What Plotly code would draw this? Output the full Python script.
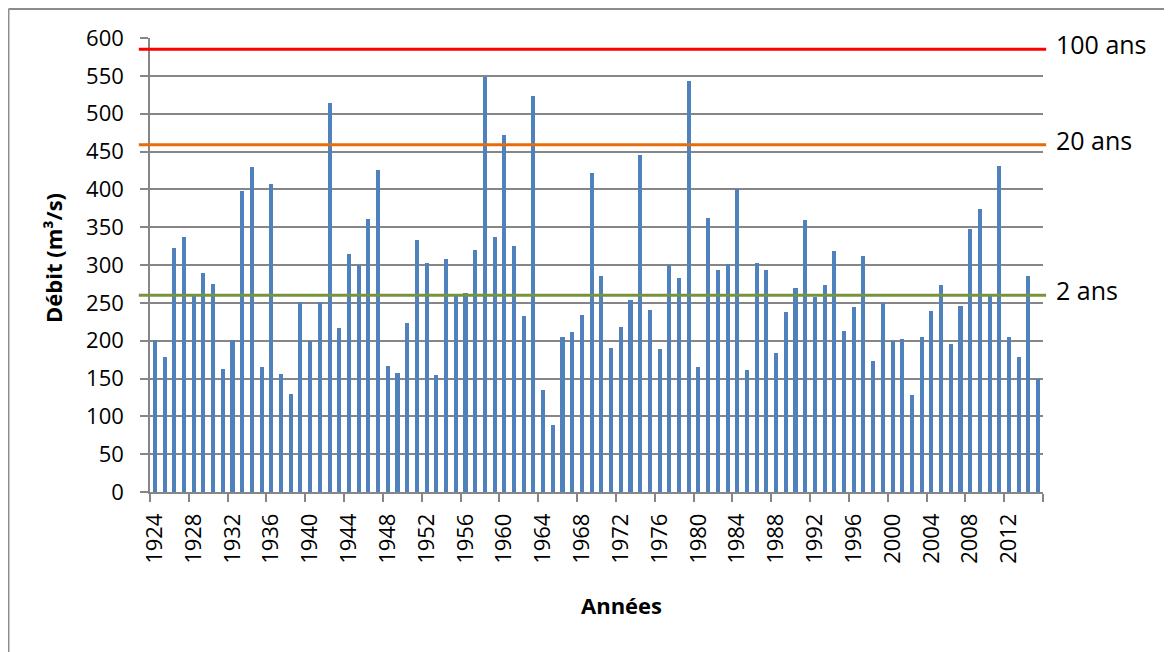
import plotly.graph_objects as go

years = list(range(1924, 2016))
debit = [201, 178, 323, 337, 259, 289, 275, 163, 201, 398,
         430, 165, 407, 156, 130, 251, 199, 251, 514, 217,
         314, 300, 361, 425, 167, 157, 223, 333, 303, 154,
         308, 259, 263, 320, 548, 337, 472, 325, 233, 523,
         135, 89, 205, 211, 234, 421, 285, 190, 218, 254,
         446, 241, 189, 300, 283, 543, 165, 362, 294, 301,
         400, 161, 303, 294, 184, 238, 270, 359, 258, 273,
         319, 213, 244, 312, 173, 250, 199, 202, 128, 205,
         239, 273, 195, 246, 348, 374, 259, 431, 205, 178,
         285, 150]

periods = ["100 ans", "20 ans", "2 ans"]
period_values = [585, 459, 260]
period_colors = ["#FF0000", "#E46C0A", "#77933C"]

tick_years = years[::4]
y_ticks = list(range(0, 601, 50))

FONT = "Open Sans"
PW, PH = 893, 454  # plot area size in px (for paper conversions)

fig = go.Figure()
fig.add_trace(go.Bar(x=years, y=debit, width=0.42,
                     marker=dict(color="#4F81BD", line=dict(width=0)),
                     showlegend=False))

for name, val, col in zip(periods, period_values, period_colors):
    fig.add_shape(type="line", xref="paper", yref="y",
                  x0=-0.0125, x1=1.0035, y0=val, y1=val,
                  line=dict(color=col, width=3), layer="above")
    fig.add_annotation(x=1.012, xref="paper", y=val, yref="y",
                       text=name, showarrow=False, xanchor="left",
                       yanchor="middle", yshift=5,
                       font=dict(family=FONT, size=25, color="black"))

# outer chart border (left and top visible)
fig.add_shape(type="line", xref="paper", yref="paper",
              x0=-0.1585, x1=-0.1585, y0=1.064, y1=-0.4,
              line=dict(color="#8C8C8C", width=2))
fig.add_shape(type="line", xref="paper", yref="paper",
              x0=-0.1585, x1=1.3, y0=1.064, y1=1.064,
              line=dict(color="#8C8C8C", width=2))

fig.add_annotation(x=(53 - 150) / PW, xref="paper", y=(492 - 258) / PH,
                   yref="paper", text="<b>Débit (m³/s)</b>", textangle=-90,
                   xanchor="center", yanchor="middle",
                   showarrow=False, font=dict(family=FONT, size=22, color="black"))
fig.add_annotation(x=(621 - 150) / PW, xref="paper", y=(492 - 605) / PH,
                   yref="paper", text="<b>Années</b>",
                   xanchor="center", yanchor="middle",
                   showarrow=False, font=dict(family=FONT, size=22, color="black"))

fig.update_layout(
    width=1172, height=652,
    margin=dict(l=142, r=137, t=30, b=168, autoexpand=False),
    paper_bgcolor="white", plot_bgcolor="white",
    bargap=0,
    font=dict(family=FONT, size=22, color="black"),
    xaxis=dict(range=[1923.5, 2015.5], tickmode="array",
               tickvals=tick_years, ticktext=[str(y) for y in tick_years],
               tickangle=-90, ticks="outside", ticklen=8,
               tickcolor="rgba(0,0,0,0)", ticklabelstandoff=3,
               showline=True, linecolor="#868686", linewidth=1.5,
               showgrid=False, zeroline=False,
               tickfont=dict(family=FONT, size=22, color="black"),
               minor=dict(tickmode="array",
                          tickvals=[y - 0.5 for y in years[::4]] + [2015.5],
                          ticks="outside", ticklen=8, tickcolor="#868686",
                          tickwidth=1.5, showgrid=False)),
    yaxis=dict(range=[0, 600], tickmode="array", tickvals=y_ticks,
               ticks="outside", ticklen=8, tickcolor="#868686", tickwidth=1.5,
               ticklabelstandoff=12,
               showline=True, linecolor="#868686", linewidth=1.5,
               showgrid=True, gridcolor="#868686", gridwidth=1.5,
               zeroline=False,
               tickfont=dict(family=FONT, size=22, color="black")),
)

fig.write_html("out.html")
